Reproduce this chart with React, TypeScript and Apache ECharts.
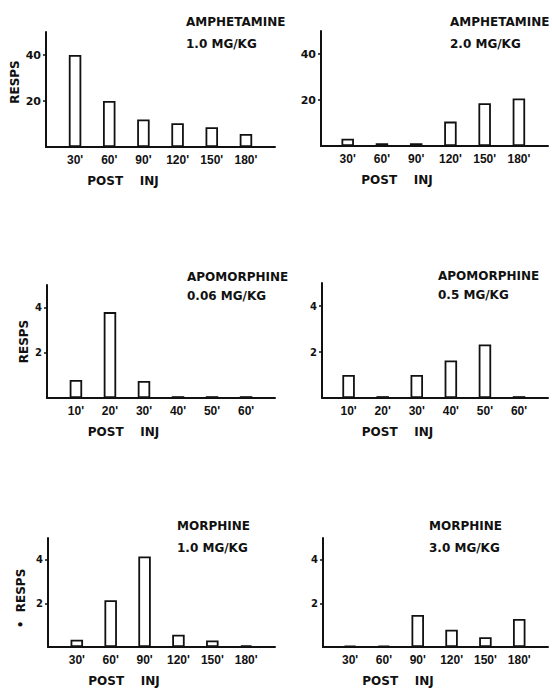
import React, { useEffect, useRef } from "react";
import * as echarts from "echarts";

// ---- data ----
const minutesLong = ["30'", "60'", "90'", "120'", "150'", "180'"];
const minutesShort = ["10'", "20'", "30'", "40'", "50'", "60'"];

const amphetamine10 = [40, 20, 12, 10.3, 8.6, 5.7];
const amphetamine20 = [3.2, 1.2, 1.2, 10.6, 18.6, 20.7];
const apomorphine006 = [0.8, 3.8, 0.75, 0.08, 0.08, 0.08];
const apomorphine05 = [1.0, 0.08, 1.0, 1.63, 2.33, 0.08];
const morphine10 = [0.33, 2.15, 4.15, 0.56, 0.3, 0.08];
const morphine30 = [0.06, 0.06, 1.47, 0.79, 0.45, 1.29];

const yTicksHigh = [20, 40];
const yTicksLow = [2, 4];

const drugNames = ["AMPHETAMINE", "AMPHETAMINE", "APOMORPHINE", "APOMORPHINE", "MORPHINE", "MORPHINE"];
const doses = ["1.0 MG/KG", "2.0 MG/KG", "0.06 MG/KG", "0.5 MG/KG", "1.0 MG/KG", "3.0 MG/KG"];
const yName = "RESPS";
const xName = "POST    INJ";

// ---- layout (positions / styles only) ----
const panels = [
  { cats: minutesLong, vals: amphetamine10, ticks: yTicksHigh, yMax: 50, left: 46, top: 32, width: 229, height: 115, xMin: 0.15, showName: true, namePrefix: "", nameGap: 25, namePad: [0, 0, 0, 15], titleLeft: 186, titleTop: 11, lh: 22, yFont: 11 },
  { cats: minutesLong, vals: amphetamine20, ticks: yTicksHigh, yMax: 50, left: 321, top: 31, width: 227, height: 115, xMin: 0.22, showName: false, namePrefix: "", nameGap: 25, namePad: [0, 0, 0, 0], titleLeft: 450, titleTop: 11, lh: 22, yFont: 11 },
  { cats: minutesShort, vals: apomorphine006, ticks: yTicksLow, yMax: 5, left: 47, top: 285, width: 228, height: 113, xMin: 0.15, showName: true, namePrefix: "", nameGap: 17, namePad: [0, 0, 0, 0], titleLeft: 187, titleTop: 267, lh: 19, yFont: 10 },
  { cats: minutesShort, vals: apomorphine05, ticks: yTicksLow, yMax: 5, left: 322, top: 283, width: 226, height: 115, xMin: 0.22, showName: false, namePrefix: "", nameGap: 17, namePad: [0, 0, 0, 0], titleLeft: 438, titleTop: 266, lh: 19, yFont: 10 },
  { cats: minutesLong, vals: morphine10, ticks: yTicksLow, yMax: 5, left: 48, top: 538, width: 227, height: 112, xMin: 0.15, showName: true, namePrefix: "\u2022  ", nameGap: 21, namePad: [0, 12, 0, 0], titleLeft: 177, titleTop: 515, lh: 22, yFont: 10 },
  { cats: minutesLong, vals: morphine30, ticks: yTicksLow, yMax: 5, left: 323, top: 538, width: 225, height: 112, xMin: 0.2, showName: false, namePrefix: "", nameGap: 21, namePad: [0, 0, 0, 0], titleLeft: 429, titleTop: 515, lh: 22, yFont: 10 },
];

const INK = "#111";
const BOLD_FONT = "'DejaVu Sans', sans-serif";
const NARROW_FONT = "'Liberation Sans Narrow', 'Liberation Sans', Arial, sans-serif";

export default function App() {
  const ref = useRef<HTMLDivElement>(null);

  useEffect(() => {
    if (!ref.current) return;
    const chart = echarts.init(ref.current, undefined, { renderer: "svg" });

    const grid = panels.map((p) => ({ left: p.left, top: p.top, width: p.width, height: p.height, containLabel: false }));

    const xAxis = panels.map((p, i) => ({
      type: "value",
      gridIndex: i,
      min: p.xMin,
      max: 6.85,
      name: xName,
      nameLocation: "middle",
      nameGap: 28,
      nameTextStyle: {
        color: INK,
        fontFamily: BOLD_FONT,
        fontWeight: "bold",
        fontSize: 12,
        padding: [0, 75, 0, 0],
      },
      axisLine: { show: true, onZero: false, lineStyle: { color: INK, width: 2 } },
      axisTick: { show: false },
      splitLine: { show: false },
      axisLabel: {
        customValues: p.cats.map((_, k) => k + 1),
        formatter: (v: number) => p.cats[Math.round(v) - 1] ?? "",
        color: INK,
        fontFamily: NARROW_FONT,
        fontWeight: "bold",
        fontSize: 12,
        margin: 7,
      },
    }));

    const yAxis = panels.map((p, i) => ({
      type: "value",
      gridIndex: i,
      min: 0,
      max: p.yMax,
      name: p.showName ? p.namePrefix + yName : "",
      nameLocation: "middle",
      nameGap: p.nameGap,
      nameTextStyle: {
        color: INK,
        fontFamily: BOLD_FONT,
        fontWeight: "bold",
        fontSize: 12,
        padding: p.namePad,
      },
      axisLine: { show: true, lineStyle: { color: INK, width: 2 } },
      axisTick: { show: true, customValues: p.ticks, length: 3, lineStyle: { color: INK, width: 1.5 } },
      splitLine: { show: false },
      axisLabel: {
        customValues: p.ticks,
        color: INK,
        fontFamily: BOLD_FONT,
        fontWeight: "bold",
        fontSize: p.yFont,
        margin: 5,
      },
    }));

    const series = panels.map((p, i) => ({
      type: "bar",
      xAxisIndex: i,
      yAxisIndex: i,
      barWidth: 12.5,
      data: p.vals.map((v, k) => [k + 1, v]),
      itemStyle: { color: "#fff", borderColor: INK, borderWidth: 1.8 },
      emphasis: { disabled: true },
    }));

    const title = panels.map((p, i) => ({
      text: drugNames[i] + "\n" + doses[i],
      left: p.titleLeft,
      top: p.titleTop,
      padding: 0,
      textStyle: {
        color: INK,
        fontFamily: BOLD_FONT,
        fontWeight: "bold",
        fontSize: 12,
        lineHeight: p.lh,
      },
    }));

    chart.setOption({
      animation: false,
      backgroundColor: "#fff",
      title,
      grid,
      xAxis,
      yAxis,
      series,
    });

    return () => chart.dispose();
  }, []);

  return (
    <div
      ref={ref}
      style={{ position: "fixed", left: 0, top: 0, width: 552, height: 688, background: "#fff" }}
    />
  );
}
